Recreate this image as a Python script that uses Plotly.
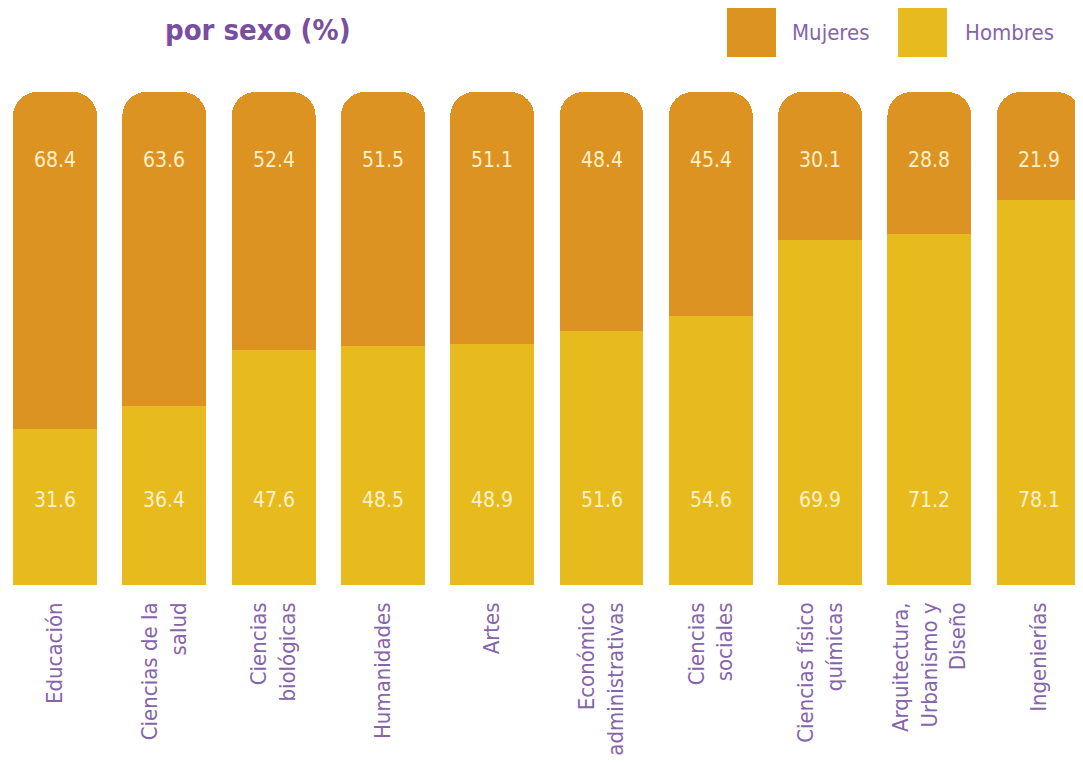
import plotly.graph_objects as go

categories = ["Educación", "Ciencias de la<br>salud", "Ciencias<br>biológicas", "Humanidades",
              "Artes", "Económico<br>administrativas", "Ciencias<br>sociales",
              "Ciencias físico<br>químicas", "Arquitectura,<br>Urbanismo y<br>Diseño", "Ingenierías"]
mujeres = [68.4, 63.6, 52.4, 51.5, 51.1, 48.4, 45.4, 30.1, 28.8, 21.9]
hombres = [31.6, 36.4, 47.6, 48.5, 48.9, 51.6, 54.6, 69.9, 71.2, 78.1]
series_names = ["Mujeres", "Hombres"]
title_text = "por sexo (%)"

C_MUJ = "#DD9322"
C_HOM = "#E7BB1E"
PURPLE = "#7A4E9E"
LABEL_PURPLE = "#8664AA"
VAL_COLOR = "#FFF0C8"
FONT = "DejaVu Sans Condensed"

W, H = 1075, 754  # page body has 8px margin
OFF = 8
PLOT_H = 493


def px(xr):
    return (xr - OFF) / W


def py(yr):
    return (585 - yr) / PLOT_H


x_idx = list(range(len(categories)))

fig = go.Figure()
fig.add_trace(go.Bar(x=x_idx, y=hombres, name=series_names[1], marker_color=C_HOM,
                     marker_line_width=0, showlegend=False, hoverinfo="skip"))
fig.add_trace(go.Bar(x=x_idx, y=mujeres, name=series_names[0], marker_color=C_MUJ,
                     marker_line_width=0, showlegend=False, hoverinfo="skip"))

for i in x_idx:
    fig.add_annotation(x=i, y=86.2, text=f"{mujeres[i]:.1f}", showarrow=False,
                       font=dict(family=FONT, size=21, color=VAL_COLOR), xref="x", yref="y")
    fig.add_annotation(x=i, y=17.2, text=f"{hombres[i]:.1f}", showarrow=False,
                       font=dict(family=FONT, size=21, color=VAL_COLOR), xref="x", yref="y")

legend_items = [(series_names[0], C_MUJ, 727, 790), (series_names[1], C_HOM, 898, 963)]
for name, col, sx, tx in legend_items:
    fig.add_shape(type="rect", xref="paper", yref="paper",
                  x0=px(sx), x1=px(sx + 49), y0=py(57), y1=py(8),
                  fillcolor=col, line_width=0)
    fig.add_annotation(xref="paper", yref="paper", x=px(tx), y=py(32),
                       text=name, showarrow=False, xanchor="left", yanchor="middle",
                       font=dict(family=FONT, size=22, color=LABEL_PURPLE))

fig.add_annotation(xref="paper", yref="paper", x=px(258), y=py(30),
                   text=title_text, showarrow=False, xanchor="center", yanchor="middle",
                   font=dict(family=FONT, size=29, color=PURPLE, weight=600))

fig.update_layout(
    barmode="stack",
    bargap=0.232,
    barcornerradius=24,
    width=W, height=H,
    margin=dict(l=0, r=0, t=84, b=177, autoexpand=False),
    paper_bgcolor="white", plot_bgcolor="white",
    xaxis=dict(range=[(OFF - 55) / 109.3, (1083 - 55) / 109.3], tickmode="array",
               tickvals=x_idx, ticktext=categories, ticklabelstandoff=12,
               tickangle=-90, showgrid=False, zeroline=False, showline=False, ticks="",
               tickfont=dict(family=FONT, size=22, color=LABEL_PURPLE)),
    yaxis=dict(range=[0, 100], visible=False, showgrid=False, zeroline=False),
)

fig.write_html("out.html")
